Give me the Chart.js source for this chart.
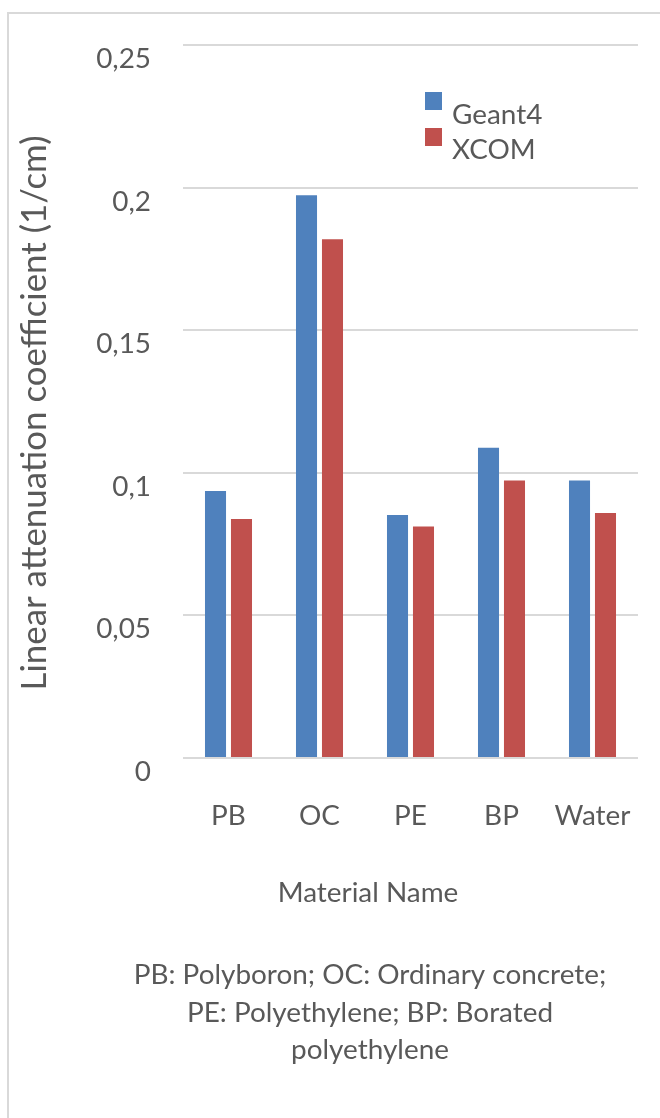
<!DOCTYPE html>
<html><head><meta charset="utf-8">
<script src="https://cdn.jsdelivr.net/npm/chart.js@4"></script>
<style>html,body{margin:0;padding:0;background:#fff;overflow:hidden}canvas{display:block}</style>
</head><body>
<canvas id="c" width="660" height="1118"></canvas>
<script>
const categories = ['PB', 'OC', 'PE', 'BP', 'Water'];
const seriesNames = ['Geant4', 'XCOM'];
const geant4 = [0.0936, 0.1973, 0.0852, 0.1088, 0.0973];
const xcom = [0.0838, 0.1819, 0.0812, 0.0973, 0.0859];
const yTickLabels = ['0', '0,05', '0,1', '0,15', '0,2', '0,25'];
const yTitle = 'Linear attenuation coefficient (1/cm)';
const xTitle = 'Material Name';
const noteLines = ['PB: Polyboron; OC: Ordinary concrete;', 'PE: Polyethylene; BP: Borated', 'polyethylene'];

const FAM = 'Lato, "Open Sans", sans-serif';
const TXT = '#595959';
const mctx = document.createElement('canvas').getContext('2d');
function fit(text, w) { mctx.font = '100px ' + FAM; return 100 * w / mctx.measureText(text).width; }
const base = (fit(xTitle, 190) + fit(noteLines[0], 435) + fit('Geant4', 93)) / 3;
const big = fit(yTitle, 555);

const deco = {
  id: 'deco',
  beforeDraw(chart) {
    const ctx = chart.ctx;
    ctx.save();
    ctx.strokeStyle = '#d9d9d9';
    ctx.lineWidth = 2;
    ctx.beginPath();
    ctx.moveTo(8, 1118); ctx.lineTo(8, 13); ctx.lineTo(660, 13);
    ctx.stroke();
    ctx.restore();
  },
  afterDraw(chart) {
    const ctx = chart.ctx;
    ctx.save();
    ctx.fillStyle = TXT;
    ctx.textBaseline = 'middle';
    ctx.save();
    ctx.translate(35, 413);
    ctx.rotate(-Math.PI / 2);
    ctx.textAlign = 'center';
    ctx.font = big + 'px ' + FAM;
    ctx.fillText(yTitle, 0, 0);
    ctx.restore();
    ctx.font = base + 'px ' + FAM;
    ctx.textAlign = 'center';
    ctx.fillText(xTitle, 368, 893);
    noteLines.forEach((l, i) => ctx.fillText(l, 370, 975 + 37.5 * i));
    ctx.textAlign = 'left';
    chart.data.datasets.forEach((ds, i) => {
      ctx.fillStyle = ds.backgroundColor;
      ctx.fillRect(425, 92 + 36 * i, 17, 18);
      ctx.fillStyle = TXT;
      ctx.fillText(ds.label, 452, 115 + 35 * i);
    });
    ctx.restore();
  }
};

new Chart(document.getElementById('c'), {
  type: 'bar',
  data: {
    labels: categories,
    datasets: [
      { label: seriesNames[0], data: geant4, backgroundColor: '#4F81BD' },
      { label: seriesNames[1], data: xcom, backgroundColor: '#C0504D' }
    ]
  },
  options: {
    responsive: false,
    animation: false,
    devicePixelRatio: 1,
    categoryPercentage: 0.571,
    barPercentage: 0.81,
    layout: { padding: { left: 0, top: 45, right: 22, bottom: 0 } },
    plugins: { legend: { display: false }, tooltip: { enabled: false } },
    scales: {
      x: {
        grid: { display: false },
        border: { display: false },
        ticks: { color: TXT, font: { family: FAM, size: base }, padding: 33 },
        afterFit(s) { s.height = 360; s.paddingLeft = 0; s.paddingRight = 0; s.paddingTop = 0; s.paddingBottom = 0; }
      },
      y: {
        min: 0, max: 0.25,
        grid: { color: '#d9d9d9', lineWidth: 2, drawTicks: false },
        border: { display: false },
        ticks: {
          stepSize: 0.05, color: TXT, padding: 32, labelOffset: 14,
          font: { family: FAM, size: base },
          callback: (v, i) => yTickLabels[i]
        },
        afterFit(s) { s.width = 183; s.paddingLeft = 0; s.paddingRight = 0; s.paddingTop = 0; s.paddingBottom = 0; }
      }
    }
  },
  plugins: [deco]
});
</script>
</body></html>
